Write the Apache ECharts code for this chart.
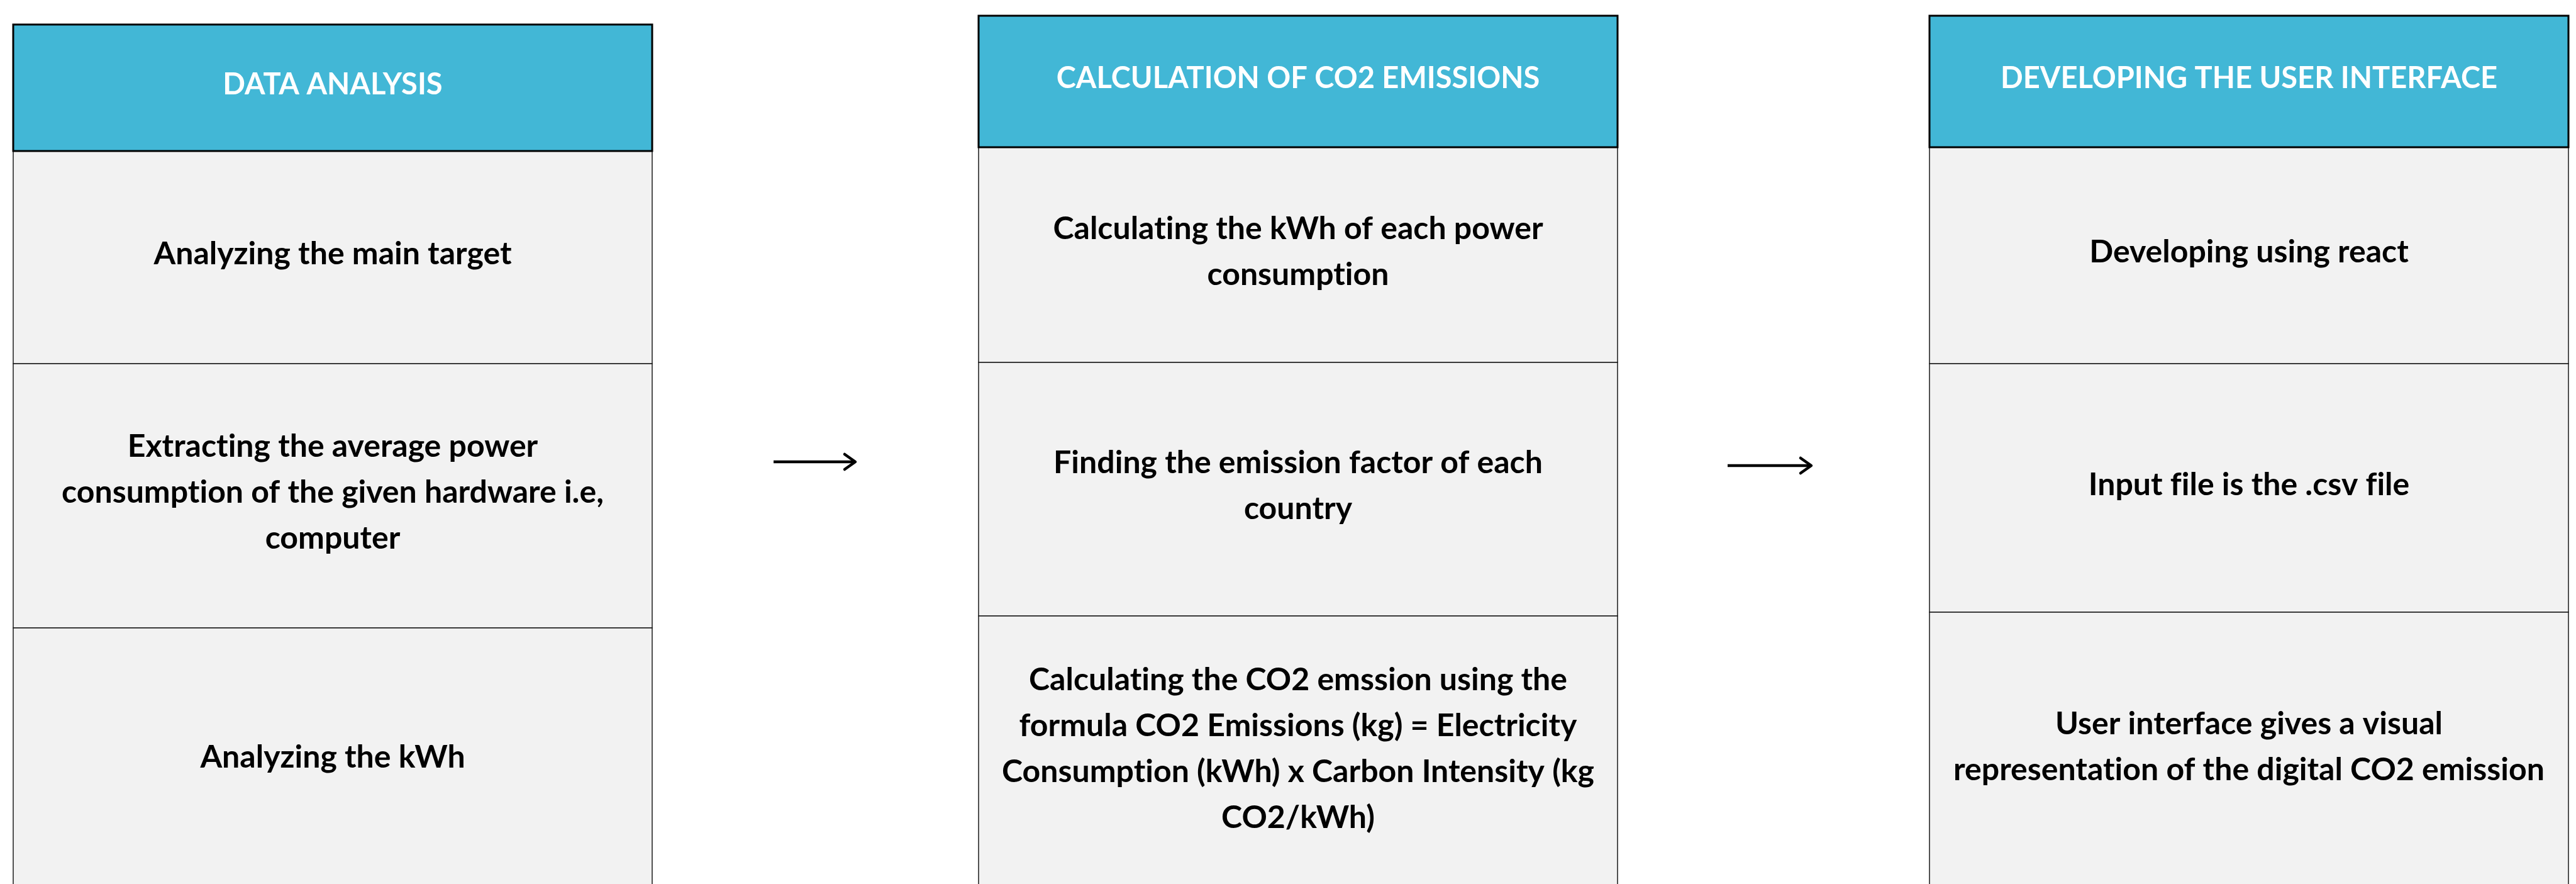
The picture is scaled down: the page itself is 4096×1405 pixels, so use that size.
<!DOCTYPE html>
<html>
<head>
<meta charset="utf-8">
<title>CO2 project workflow</title>
<script src="https://cdn.jsdelivr.net/npm/echarts@6/dist/echarts.min.js"></script>
<style>
  html, body { margin: 0; padding: 0; background: #ffffff; }
  #chart { width: 4096px; height: 1405px; }
</style>
</head>
<body>
<div id="chart"></div>
<script>
// stage titles and the steps listed under each stage
var stageTitles = ['DATA ANALYSIS', 'CALCULATION OF CO2 EMISSIONS', 'DEVELOPING THE USER INTERFACE'];
var dataAnalysisSteps = [
  'Analyzing the main target',
  'Extracting the average power\nconsumption of the given hardware i.e,\ncomputer',
  'Analyzing the kWh'
];
var emissionSteps = [
  'Calculating the kWh of each power\nconsumption',
  'Finding the emission factor of each\ncountry',
  'Calculating the CO2 emssion using the\nformula CO2 Emissions (kg) = Electricity\nConsumption (kWh) x Carbon Intensity (kg\nCO2/kWh)'
];
var interfaceSteps = [
  'Developing using react',
  'Input file is the .csv file',
  'User interface gives a visual\nrepresentation of the digital CO2 emission'
];
var stageSteps = [dataAnalysisSteps, emissionSteps, interfaceSteps];

// layout of the diagram, in page pixels
var colLeft = [21, 1556, 3068];
var colWidth = 1016;
var headerTop = [39, 25, 25];
var rowEdges = [
  [240, 578, 998, 1419],
  [234, 576, 979, 1411],
  [234, 578, 973, 1411]
];
var arrowSpans = [[1230, 1360, 734], [2747, 2880, 740]];

var FONT = 'Lato';
var TEXT_SHIFT = -5;

// no "ti" ligatures, as in the original
var origGetContext = HTMLCanvasElement.prototype.getContext;
HTMLCanvasElement.prototype.getContext = function (type, opts) {
  var ctx = origGetContext.call(this, type, opts);
  if (type === '2d' && ctx) {
    try {
      ctx.letterSpacing = '0.01px';
      ctx.textRendering = 'optimizeSpeed';
    } catch (e) {}
  }
  return ctx;
};

var chartDom = document.getElementById('chart');
var flowChart = echarts.init(chartDom);

function renderCell(params, api) {
  var s = api.value(0);
  var r = api.value(1);
  var p0 = api.coord([colLeft[s], rowEdges[s][r]]);
  var p1 = api.coord([colLeft[s] + colWidth, rowEdges[s][r + 1]]);
  return {
    type: 'group',
    children: [
      {
        type: 'rect',
        shape: { x: p0[0], y: p0[1], width: p1[0] - p0[0], height: p1[1] - p0[1] },
        style: { fill: '#f2f2f2', stroke: '#1a1a1a', lineWidth: 1.5 }
      },
      {
        type: 'text',
        x: (p0[0] + p1[0]) / 2,
        y: (p0[1] + p1[1]) / 2 + TEXT_SHIFT,
        style: {
          text: stageSteps[s][r],
          fill: '#000000',
          fontFamily: FONT,
          fontWeight: 'bold',
          fontSize: 50,
          lineHeight: 73,
          align: 'center',
          verticalAlign: 'middle'
        }
      }
    ]
  };
}

function renderHeader(params, api) {
  var s = api.value(0);
  var p0 = api.coord([colLeft[s], headerTop[s]]);
  var p1 = api.coord([colLeft[s] + colWidth, rowEdges[s][0]]);
  return {
    type: 'group',
    children: [
      {
        type: 'rect',
        shape: { x: p0[0], y: p0[1], width: p1[0] - p0[0], height: p1[1] - p0[1] },
        style: { fill: '#42b7d6', stroke: '#000000', lineWidth: 3 }
      },
      {
        type: 'text',
        x: (p0[0] + p1[0]) / 2,
        y: (p0[1] + p1[1]) / 2 + TEXT_SHIFT,
        style: {
          text: stageTitles[s],
          fill: '#ffffff',
          fontFamily: FONT,
          fontWeight: 'bold',
          fontSize: 47,
          align: 'center',
          verticalAlign: 'middle'
        }
      }
    ]
  };
}

function renderArrow(params, api) {
  var a = arrowSpans[api.value(0)];
  var start = api.coord([a[0], a[2]]);
  var tip = api.coord([a[1], a[2]]);
  return {
    type: 'group',
    children: [
      {
        type: 'line',
        shape: { x1: start[0], y1: start[1], x2: tip[0] - 2, y2: tip[1] },
        style: { stroke: '#000000', lineWidth: 4.5 }
      },
      {
        type: 'polyline',
        shape: { points: [[tip[0] - 17, tip[1] - 12], [tip[0], tip[1]], [tip[0] - 17, tip[1] + 12]] },
        style: { stroke: '#000000', lineWidth: 4.5, lineCap: 'round', lineJoin: 'round', fill: null }
      }
    ]
  };
}

var cellData = [];
stageSteps.forEach(function (steps, s) {
  steps.forEach(function (step, r) {
    cellData.push([s, r]);
  });
});

var option = {
  animation: false,
  backgroundColor: '#ffffff',
  grid: { left: 0, right: 0, top: 0, bottom: 0 },
  xAxis: { type: 'value', min: 0, max: 4096, show: false },
  yAxis: { type: 'value', min: 0, max: 1405, inverse: true, show: false },
  series: [
    {
      type: 'custom',
      name: 'steps',
      renderItem: renderCell,
      data: cellData,
      clip: false,
      silent: true
    },
    {
      type: 'custom',
      name: 'stages',
      renderItem: renderHeader,
      data: stageTitles.map(function (t, i) { return [i, 0]; }),
      clip: false,
      silent: true
    },
    {
      type: 'custom',
      name: 'arrows',
      renderItem: renderArrow,
      data: arrowSpans.map(function (a, i) { return [i, 0]; }),
      clip: false,
      silent: true
    }
  ]
};

flowChart.setOption(option);
window.addEventListener('resize', function () {
  flowChart.resize();
});
</script>
</body>
</html>
